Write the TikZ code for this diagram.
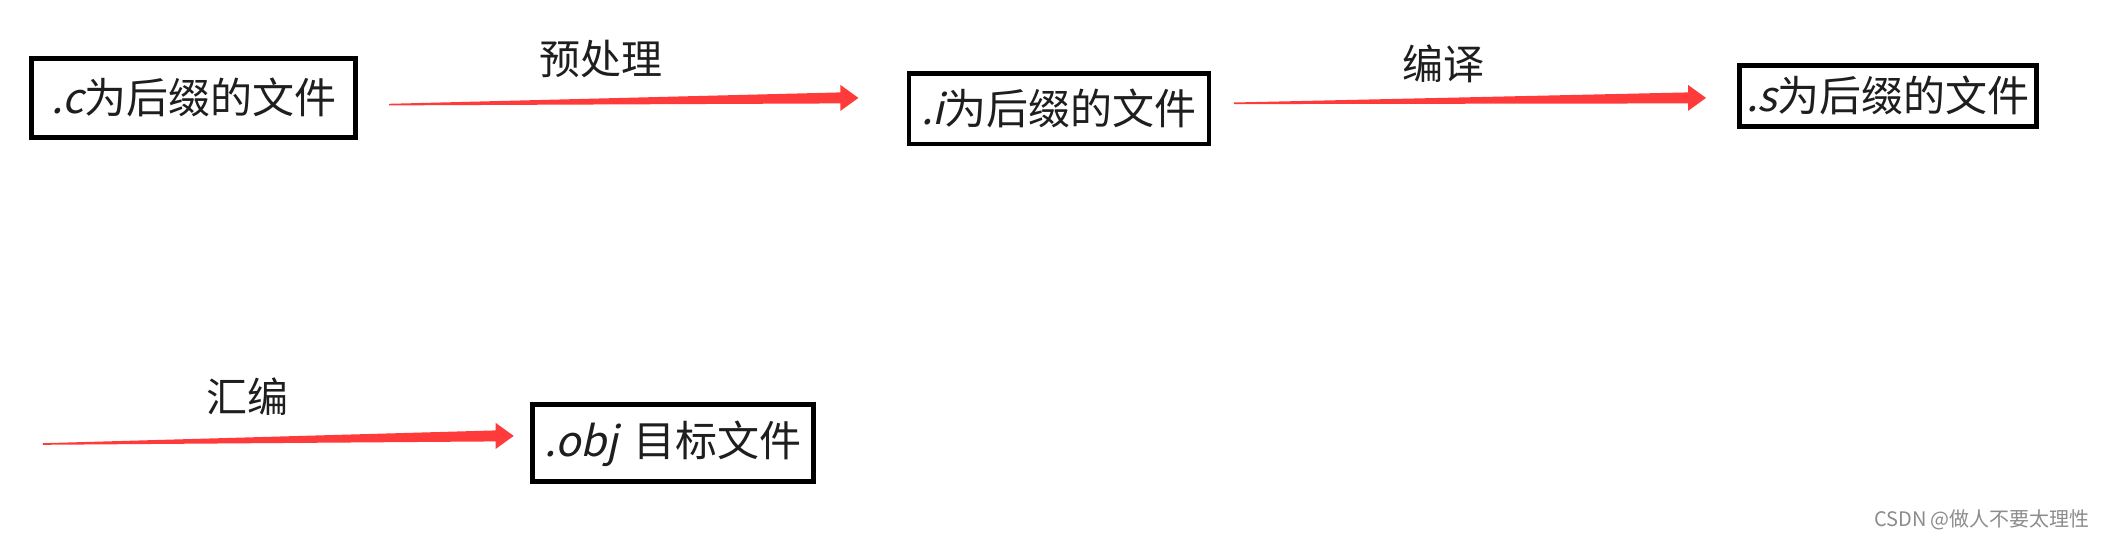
\documentclass[tikz,border=0pt]{standalone}
\usepackage{fontspec}
\setmainfont{Noto Sans CJK SC}
\newfontfamily\cjkit[FakeSlant=0.22]{Noto Sans CJK SC}
\usetikzlibrary{calc}
\definecolor{arrowred}{RGB}{255,58,58}
\definecolor{txt}{RGB}{30,30,30}
\tikzset{
  filebox/.style={draw=black, line width=4.8pt, fill=white, inner sep=0pt, text=txt, font=\fontsize{42}{46}\selectfont},
  steplabel/.style={text=txt, font=\fontsize{41}{45}\selectfont, inner sep=0pt},
}
\newcommand\mytaper[2]{\fill[arrowred] ($(#1)+(0,0.8)$) -- ($(#2)+(-18,5.5)$) -- ($(#2)+(-18,13)$) -- (#2) -- ($(#2)+(-18,-13)$) -- ($(#2)+(-18,-5.5)$) -- ($(#1)+(0,-0.8)$) -- cycle;}
\begin{document}
\begin{tikzpicture}[x=1pt,y=1pt]
\useasboundingbox[fill=white] (0,0) rectangle (2103,-542);
% boxes
\node[filebox, minimum width=324pt, minimum height=78.7pt] (c) at (193.8,-97.9) {{\cjkit .c}为后缀的文件};
\node[filebox, minimum width=300pt, minimum height=70.6pt] (i) at (1058.9,-108.7) {{\cjkit .i}为后缀的文件};
\node[filebox, minimum width=297pt, minimum height=61.3pt] (s) at (1887.8,-95.9) {{\cjkit .s}为后缀的文件};
\node[filebox, minimum width=281pt, minimum height=77pt] (o) at (672.7,-443.3) {{\cjkit .obj}\hspace{0.35em}目标文件};
% labels
\node[steplabel] (l1) at (601,-59) {预处理};
\node[steplabel] (l2) at (1443,-64) {编译};
\node[steplabel] (l3) at (247,-397) {汇编};
% arrows
\coordinate (a1s) at (389,-104.6);
\coordinate (a1e) at (858.4,-97.9);
\coordinate (a2s) at (1233.9,-103.3);
\coordinate (a2e) at (1706,-97.9);
\coordinate (a3s) at (42.9,-444);
\coordinate (a3e) at (513.7,-435.9);
\mytaper{a1s}{a1e}
\mytaper{a2s}{a2e}
\mytaper{a3s}{a3e}
% watermark
\node[text=black!45, font=\fontsize{20}{22}\selectfont, inner sep=0pt] (wm) at (1982,-520) {CSDN @做人不要太理性};
\end{tikzpicture}
\end{document}
